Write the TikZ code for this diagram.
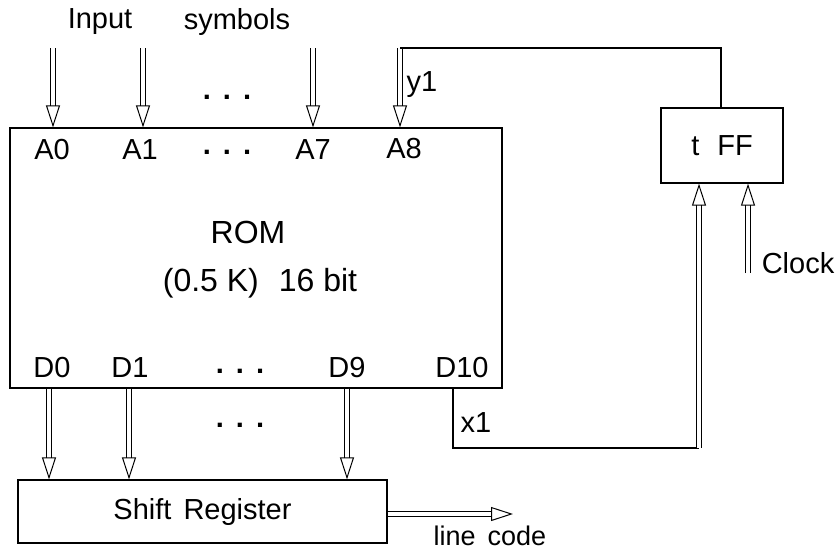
\documentclass[tikz,border=0pt]{standalone}
\usepackage{fontspec}
\setmainfont{Liberation Sans}
\usetikzlibrary{arrows.meta}
\begin{document}
\begin{tikzpicture}[x=1pt,y=-1pt,
  every node/.style={font=\fontsize{29}{34}\selectfont, inner sep=0pt},
  blk/.style={draw, line width=1.3pt},
  wire/.style={draw, line width=1.3pt},
  dblarrow/.style={draw, line width=1pt, double, double distance=4pt,
    -{Triangle[open, length=22pt, width=14pt, line width=1pt]}},
  lbl/.style={anchor=center}]
\useasboundingbox (0,0) rectangle (837,550);
% boxes
\node[blk, minimum width=492pt, minimum height=260pt] (rom) at (256,258) {};
\node[blk, minimum width=122pt, minimum height=75pt] (ff) at (722,145.5) {};
\node[blk, minimum width=369pt, minimum height=63pt] (sr) at (202.5,511.5) {};
% box texts
\node (romt) at (248,232) {\fontsize{32}{36}\selectfont ROM};
\node (romt2) at (260,283) {\fontsize{32}{36}\selectfont (0.5 K)\hspace{20pt}16 bit};
\node (fft) at (ff.center) {t\hspace{18pt}FF};
\node (srt) at (sr.center) {Shift\hspace{12pt}Register};
% top labels
\node (inp) at (100,22) {Input};
\node (sym) at (237,22) {symbols};
\node (dtop) at (227,97) {\textbf{.}\hspace{12pt}\textbf{.}\hspace{12pt}\textbf{.}};
\node (a0) at (52,150) {A0};
\node (a1) at (140,150) {A1};
\node (adots) at (227,152) {\textbf{.}\hspace{12pt}\textbf{.}\hspace{12pt}\textbf{.}};
\node (a7) at (313,150) {A7};
\node (a8) at (404,149) {A8};
\node (y1) at (422,85) {y1};
% bottom labels
\node (d0) at (52,368) {D0};
\node (d1) at (130,368) {D1};
\node (ddots) at (240,371) {\textbf{.}\hspace{12pt}\textbf{.}\hspace{12pt}\textbf{.}};
\node (d9) at (347,368) {D9};
\node (d10) at (462,368) {D10};
\node (dbot) at (240,425) {\textbf{.}\hspace{12pt}\textbf{.}\hspace{12pt}\textbf{.}};
\node (x1) at (476,423) {x1};
\node (clk) at (798,263) {Clock};
\node (lc) at (490,536) {\fontsize{27}{32}\selectfont line\hspace{12pt}code};
% input arrows
\coordinate (i0) at (53,48);
\coordinate (i1) at (143,48);
\coordinate (i7) at (313,48);
\coordinate (i8) at (400,48);
\foreach \c in {i0,i1,i7,i8} \draw[dblarrow] (\c) -- (\c |- rom.north);
% output arrows
\coordinate (o0) at (49,0);
\coordinate (o1) at (129,0);
\coordinate (o9) at (347,0);
\foreach \c in {o0,o1,o9} \draw[dblarrow] (rom.south -| \c) -- (sr.north -| \c);
% line code
\coordinate (lcend) at (513,514);
\draw[dblarrow] (sr.east |- lcend) -- (lcend);
% feedback y1
\coordinate (fbtop) at (721,48);
\draw[wire] (ff.north -| fbtop) -- (fbtop) -- (i8);
% x1 path
\coordinate (xs) at (453,0);
\coordinate (xc) at (699,448);
\draw[wire] (rom.south -| xs) -- (xs |- xc) -- (xc);
\draw[dblarrow] (xc) -- (ff.south -| xc);
% clock
\coordinate (ck) at (748,273);
\draw[dblarrow] (ck) -- (ff.south -| ck);
\end{tikzpicture}
\end{document}
